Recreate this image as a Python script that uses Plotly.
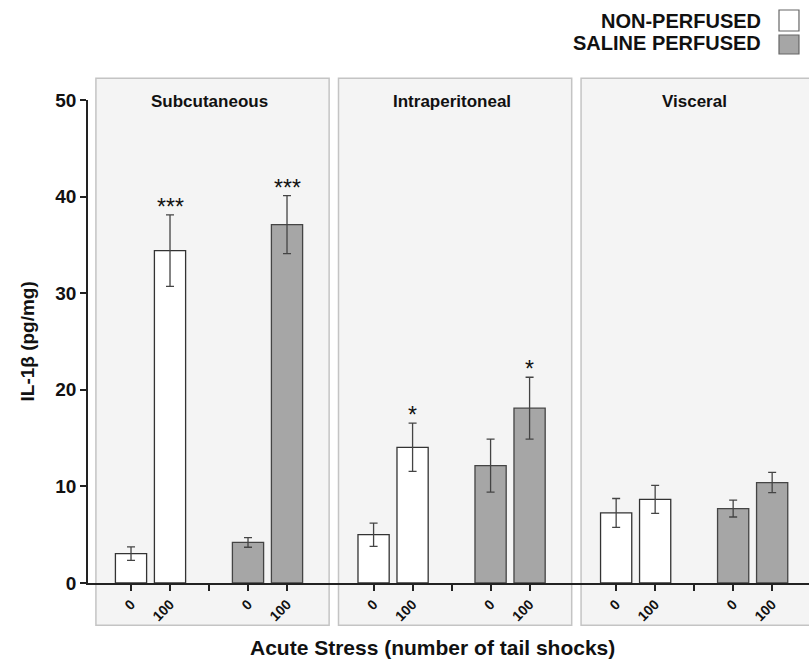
import plotly.graph_objects as go

# ---- data ----
regions = ["Subcutaneous", "Intraperitoneal", "Visceral"]
stress_levels = ["0", "100"]
np_means = [3.05, 34.4, 5.0, 14.05, 7.25, 8.66]       # non-perfused, (0,100) per region
np_err = [0.7, 3.7, 1.2, 2.5, 1.5, 1.45]
sal_means = [4.2, 37.1, 12.15, 18.1, 7.7, 10.4]       # saline perfused
sal_err = [0.5, 3.0, 2.75, 3.2, 0.87, 1.05]
np_sig = ["", "***", "", "*", "", ""]
sal_sig = ["", "***", "", "*", "", ""]
y_ticks = [0, 10, 20, 30, 40, 50]

# ---- layout helpers ----
PANEL_STEP = 6.22
FONT = "Liberation Sans, Arial, Helvetica, sans-serif"

np_x, sal_x = [], []
for p in range(len(regions)):
    base = p * PANEL_STEP
    np_x += [base + 0, base + 1]
    sal_x += [base + 3, base + 4]

tickvals, ticktext = [], []
for p in range(len(regions)):
    base = p * PANEL_STEP
    tickvals += [base + 0, base + 1, base + 2, base + 3, base + 4]
    ticktext += [stress_levels[0], stress_levels[1], "", stress_levels[0], stress_levels[1]]

fig = go.Figure()

fig.add_trace(go.Bar(
    x=np_x, y=np_means, width=0.8, name="NON-PERFUSED",
    marker=dict(color="white", line=dict(color="#333333", width=1.3)),
    error_y=dict(type="data", array=np_err, visible=True, color="#444444", thickness=1.3, width=4),
    showlegend=False,
))
fig.add_trace(go.Bar(
    x=sal_x, y=sal_means, width=0.8, name="SALINE PERFUSED",
    marker=dict(color="#a6a6a6", line=dict(color="#444444", width=1.3)),
    error_y=dict(type="data", array=sal_err, visible=True, color="#444444", thickness=1.3, width=4),
    showlegend=False,
))

# significance marks
for xs, ms, es, sg in [(np_x, np_means, np_err, np_sig), (sal_x, sal_means, sal_err, sal_sig)]:
    for x, m, e, s in zip(xs, ms, es, sg):
        if s:
            fig.add_annotation(x=x, y=m + e, text=s, showarrow=False, yanchor="bottom",
                               yshift=-7, font=dict(family=FONT, size=23, color="#111111"))

# panel boxes and titles
for p, name in enumerate(regions):
    base = p * PANEL_STEP
    fig.add_shape(type="rect", xref="x", yref="paper",
                  x0=base - 0.9, x1=base + 5.08, y0=-0.0876, y1=1.045,
                  fillcolor="#f4f4f4", line=dict(color="#c4c4c4", width=1.5), layer="below")
    fig.add_annotation(x=base + 2, y=0.996, xref="x", yref="paper", text="<b>%s</b>" % name,
                       showarrow=False, xanchor="center", yanchor="middle",
                       font=dict(family=FONT, size=17, color="#111111"))

# axis titles
fig.add_annotation(x=-0.0846, y=0.5, xref="paper", yref="paper", text="<b>IL-1β (pg/mg)</b>",
                   textangle=-90, showarrow=False, xanchor="center", yanchor="middle",
                   font=dict(family=FONT, size=19, color="#111111"))
fig.add_annotation(x=0.4785, y=-0.134, xref="paper", yref="paper",
                   text="<b>Acute Stress (number of tail shocks)</b>",
                   showarrow=False, xanchor="center", yanchor="middle",
                   font=dict(family=FONT, size=21, color="#111111"))

# custom legend
legend_items = [("NON-PERFUSED", "white", 1.1636, 1.1863, 1.1429),
                ("SALINE PERFUSED", "#a6a6a6", 1.118, 1.1346, 1.0952)]
for label, col, ty, by0, by1 in legend_items:
    fig.add_annotation(x=0.936, y=ty, xref="paper", yref="paper", text="<b>%s</b>" % label,
                       showarrow=False, xanchor="right", yanchor="middle",
                       font=dict(family=FONT, size=20, color="#111111"))
    fig.add_shape(type="rect", xref="paper", yref="paper", x0=0.9584, x1=0.9861,
                  y0=by1, y1=by0, fillcolor=col, line=dict(color="#666666", width=1.2))

fig.update_layout(
    width=809, height=666,
    margin=dict(l=88, r=0, t=100, b=83),
    paper_bgcolor="white", plot_bgcolor="rgba(0,0,0,0)",
    barmode="overlay", showlegend=False,
    font=dict(family=FONT, color="#111111"),
    xaxis=dict(range=[-1.103, 17.385], tickvals=tickvals, ticktext=ticktext, tickangle=-45,
               showline=True, linecolor="#222222", linewidth=1.5, ticks="outside", ticklen=6,
               tickwidth=1.5, tickcolor="#222222", showgrid=False, zeroline=False,
               tickfont=dict(family=FONT, size=14, color="#111111", weight="bold"), fixedrange=True),
    yaxis=dict(range=[0, 50], tickvals=y_ticks, showline=True, linecolor="#222222", linewidth=1.5,
               ticks="outside", ticklen=6, tickwidth=1.5, tickcolor="#222222", showgrid=False,
               zeroline=False, tickfont=dict(family=FONT, size=19, color="#111111", weight="bold"),
               fixedrange=True),
)

fig.write_html("out.html")
